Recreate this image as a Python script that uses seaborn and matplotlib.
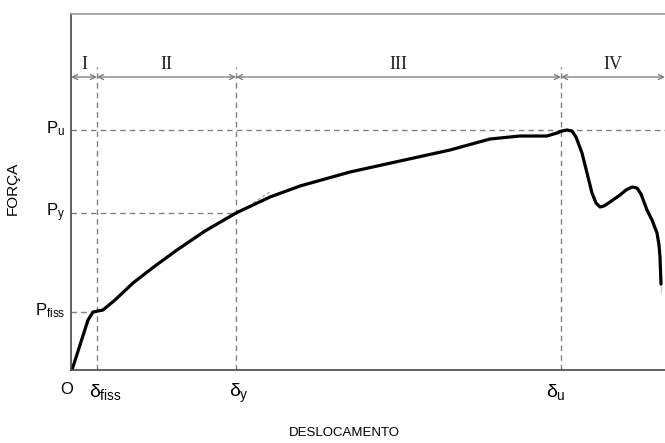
import numpy as np
import pandas as pd
import matplotlib
matplotlib.use("Agg")
import matplotlib.pyplot as plt
import seaborn as sns

# curva força x deslocamento (unidades arbitrárias)
desloc = [1, 9, 17, 22, 27, 32, 44, 62, 84, 106, 134, 165, 199, 229, 279, 329,
          379, 419, 449, 476, 486, 491, 496, 501, 505, 511, 517, 521, 525, 529,
          533, 539, 549, 555, 561, 566, 570, 576, 581, 586, 588, 589, 590, 590]
forca = [0, 25, 50, 58, 59, 60, 70, 87, 104, 120, 139, 157, 173, 184, 198, 209,
         220, 231, 234, 234, 237, 239, 240, 239, 233, 217, 193, 177, 167, 163,
         164, 168, 175, 180, 183, 182, 176, 160, 150, 137, 125, 113, 95, 77]

# pontos característicos
d_marks = [26, 165, 490]
d_labels = [r"$\delta_{\mathrm{fiss}}$", r"$\delta_{\mathrm{y}}$", r"$\delta_{\mathrm{u}}$"]
p_marks = [58, 157, 240]
p_labels = [r"$\mathrm{P}_{\mathrm{fiss}}$", r"$\mathrm{P}_{\mathrm{y}}$", r"$\mathrm{P}_{\mathrm{u}}$"]
p_ends = [26, 165, 594]
fases = ["I", "II", "III", "IV"]
fase_lim = [0, 26, 165, 490, 594]
tangente_x = [182, 199]
tangente_y = [167, 178]

sns.set_style("white")
plt.rcParams["font.family"] = ["Liberation Sans", "DejaVu Sans"]
plt.rcParams["mathtext.fontset"] = "custom"
plt.rcParams["mathtext.rm"] = "Liberation Sans"
plt.rcParams["mathtext.it"] = "Liberation Sans"
plt.rcParams["text.color"] = "black"
plt.rcParams["axes.labelcolor"] = "black"

fig = plt.figure(figsize=(6.65, 4.43), dpi=100)
ax = fig.add_axes([71 / 665, 73 / 443, 594 / 665, 356 / 443])
ax.set_xlim(0, 594)
ax.set_ylim(0, 356)

gray = "#808080"
y_fase = 293

# linhas tracejadas
for d in d_marks:
    ax.plot([d, d], [0, y_fase + 10], ls=(0, (4, 3)), color=gray, lw=1)
for p, e in zip(p_marks, p_ends):
    ax.plot([0, e], [p, p], ls=(0, (4, 3)), color=gray, lw=1)
ax.plot(tangente_x, tangente_y, ls=(0, (3, 2)), color="#a0a0a0", lw=0.8)

# curva
df = pd.DataFrame({"desloc": desloc, "forca": forca})
sns.lineplot(data=df, x="desloc", y="forca", sort=False, color="black",
             lw=2.3, ax=ax, solid_joinstyle="round", solid_capstyle="round")

# fases
for i, nome in enumerate(fases):
    a, b = fase_lim[i], fase_lim[i + 1]
    ax.annotate("", xy=(a, y_fase), xytext=(b, y_fase),
                arrowprops=dict(arrowstyle="<->", color=gray, lw=1,
                                shrinkA=0, shrinkB=0, mutation_scale=9))
    ax.text((a + b) / 2, y_fase + 4, nome, ha="center", va="bottom",
            fontsize=13, family="Liberation Serif", color="#222222")

# rótulos
ax.set_xticks([])
ax.set_yticks([])
ax.text(-4, -12, "O", ha="center", va="top", fontsize=12)
for d, lab, dx in zip(d_marks, d_labels, [-8, -7, -15]):
    ax.text(d + dx, -12, lab, ha="left", va="top", fontsize=14)
for p, lab in zip(p_marks, p_labels):
    ax.text(-6, p - 3, lab, ha="right", va="baseline", fontsize=12)

ax.set_xlabel("DESLOCAMENTO", fontsize=9.5)
ax.xaxis.set_label_coords(0.46, -0.16)
ax.set_ylabel("FORÇA", fontsize=11)
ax.yaxis.set_label_coords(-0.086, 0.51)

for s in ["left", "bottom"]:
    ax.spines[s].set_color("#444444")
    ax.spines[s].set_linewidth(1.2)
ax.spines["top"].set_color("#999999")
ax.spines["top"].set_linewidth(1.2)
ax.spines["right"].set_visible(False)

fig.savefig("out.png", dpi=100)
